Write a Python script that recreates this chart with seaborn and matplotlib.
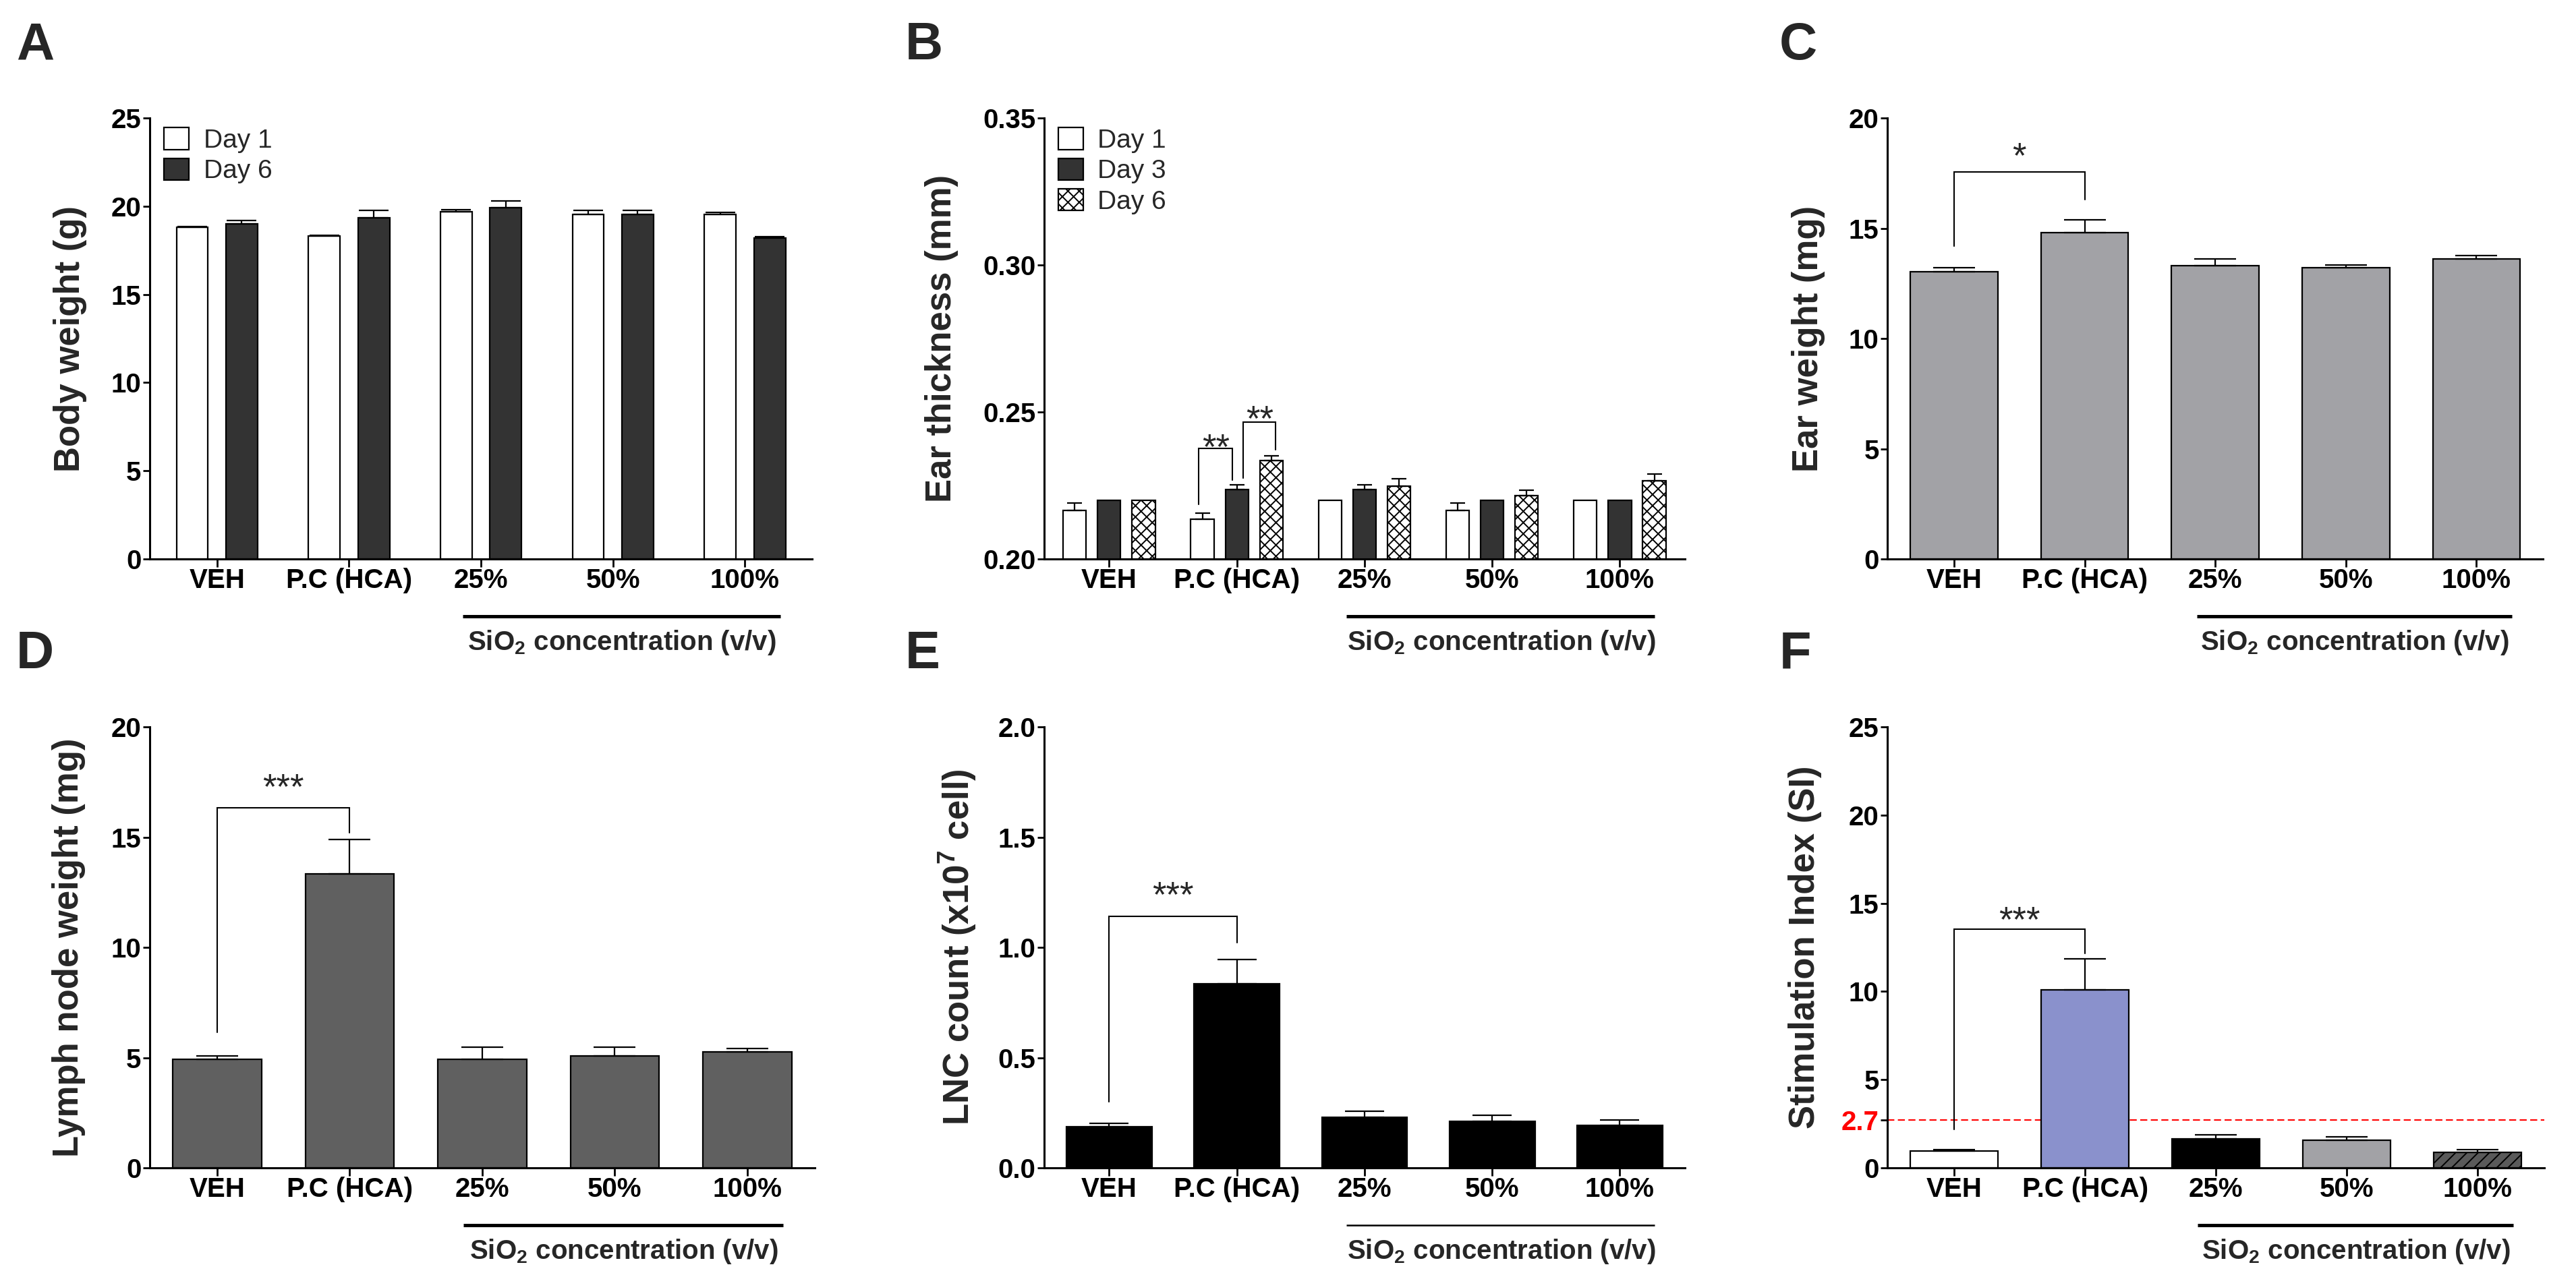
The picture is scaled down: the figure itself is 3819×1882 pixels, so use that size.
import numpy as np
import pandas as pd
import matplotlib
matplotlib.use("Agg")
import matplotlib.pyplot as plt
import matplotlib.transforms as mtransforms
from matplotlib.patches import Patch
import seaborn as sns

# x axis groups (shared by all panels)
groups = ["VEH", "P.C (HCA)", "25%", "50%", "100%"]

# A - body weight (g)
body_days = ["Day 1", "Day 6"]
body_day1 = [18.8, 18.3, 19.7, 19.55, 19.55]
body_day1_err = [0.05, 0.05, 0.12, 0.22, 0.1]
body_day6 = [19.0, 19.35, 19.9, 19.55, 18.2]
body_day6_err = [0.2, 0.4, 0.4, 0.2, 0.07]

# B - ear thickness (mm)
ear_days = ["Day 1", "Day 3", "Day 6"]
ear_day1 = [0.2165, 0.2135, 0.2200, 0.2165, 0.2200]
ear_day1_err = [0.0025, 0.002, 0.0, 0.0025, 0.0]
ear_day3 = [0.2200, 0.2236, 0.2236, 0.2200, 0.2200]
ear_day3_err = [0.0, 0.0017, 0.0017, 0.0, 0.0]
ear_day6 = [0.2200, 0.2334, 0.2247, 0.2215, 0.2265]
ear_day6_err = [0.0, 0.0017, 0.0025, 0.0018, 0.0024]

# C - ear weight (mg)
ear_weight = [13.03, 14.79, 13.29, 13.22, 13.62]
ear_weight_err = [0.17, 0.6, 0.33, 0.1, 0.15]

# D - lymph node weight (mg)
node_weight = [4.92, 13.34, 4.92, 5.08, 5.27]
node_weight_err = [0.17, 1.56, 0.55, 0.4, 0.14]

# E - LNC count (x10^7 cell)
lnc_count = [0.187, 0.835, 0.228, 0.211, 0.194]
lnc_count_err = [0.015, 0.11, 0.03, 0.027, 0.022]

# F - stimulation index
stim_index = [0.96, 10.09, 1.65, 1.58, 0.89]
stim_index_err = [0.07, 1.77, 0.23, 0.19, 0.14]
si_cutoff = 2.7

# significance brackets: (left foot, top, right foot, star y, label)
sig_B1 = (0.2185, 0.2377, 0.2268, 0.2411, "**")
sig_B2 = (0.2275, 0.2466, 0.2372, 0.2508, "**")
sig_C = (14.18, 17.56, 16.3, 18.7, "*")
sig_D = (6.15, 16.33, 15.2, 17.7, "***")
sig_E = (0.30, 1.141, 1.02, 1.28, "***")
sig_F = (2.18, 13.53, 12.16, 14.6, "***")

sns.set_theme(style="ticks")
plt.rcParams["font.family"] = ["Liberation Sans", "DejaVu Sans"]
plt.rcParams["font.weight"] = "bold"
plt.rcParams["mathtext.fontset"] = "custom"
plt.rcParams["mathtext.rm"] = "Liberation Sans:bold"
plt.rcParams["mathtext.bf"] = "Liberation Sans:bold"
plt.rcParams["mathtext.default"] = "bf"
plt.rcParams["hatch.linewidth"] = 1.4

EDGE = 1.6
TICK_FS = 29
CHECK = "xx"
STRIPE = "//"


def hatch_bar(bar, hatch, lw):
    bar.set_hatch(hatch)
    if hasattr(bar, "set_hatch_linewidth"):
        bar.set_hatch_linewidth(lw)


def grouped_bars(ax, days, values, errors, colors, hatches, width, gap, capsize):
    rows = []
    for d, vals in zip(days, values):
        for g, v in zip(groups, vals):
            rows.append({"group": g, "day": d, "value": v})
    df = pd.DataFrame(rows)
    sns.barplot(data=df, x="group", y="value", hue="day", order=groups, hue_order=days,
                palette=dict(zip(days, colors)), width=width, gap=gap, saturation=1,
                edgecolor="black", linewidth=EDGE, errorbar=None, legend=False, ax=ax)
    centers = {}
    for container, day, errs, hatch in zip(ax.containers, days, errors, hatches):
        for bar in container:
            xc = bar.get_x() + bar.get_width() / 2
            i = int(round(xc))
            centers[(i, day)] = xc
            if hatch:
                hatch_bar(bar, hatch, 1.4)
            if errs[i] > 0:
                ax.errorbar(xc, bar.get_height(), yerr=[[0], [errs[i]]], fmt="none",
                            ecolor="black", elinewidth=EDGE, capsize=capsize,
                            capthick=EDGE, zorder=3)
    return centers


def single_bars(ax, values, errs, colors, capsize, hatches=None):
    df = pd.DataFrame({"group": groups, "value": values})
    sns.barplot(data=df, x="group", y="value", hue="group", order=groups, hue_order=groups,
                palette=dict(zip(groups, colors)), dodge=False, width=0.67, saturation=1,
                edgecolor="black", linewidth=EDGE, errorbar=None, legend=False, ax=ax)
    centers = {}
    for bar in ax.patches:
        xc = bar.get_x() + bar.get_width() / 2
        i = int(round(xc))
        centers[i] = xc
        if hatches and hatches[i]:
            hatch_bar(bar, hatches[i], 1.4)
        ax.errorbar(xc, bar.get_height(), yerr=[[0], [errs[i]]], fmt="none",
                    ecolor="black", elinewidth=EDGE, capsize=capsize,
                    capthick=EDGE, zorder=3)
    return centers


def bracket(ax, x1, x2, sig, star_fs=38):
    lf, top, rf, sy, lab = sig
    ax.plot([x1, x1, x2, x2], [lf, top, top, rf], color="black", lw=1.5,
            solid_joinstyle="miter", zorder=4, clip_on=False)
    ax.annotate(lab, xy=((x1 + x2) / 2, sy), xytext=(0, -12), textcoords="offset points",
                ha="center", va="center", fontsize=star_fs, fontweight="normal")


def style_axis(ax, ylim, yticks, yticklabels, ylabel, label_off, sio2_lw=3.6):
    ax.set_xlim(-0.51, 4.51)
    ax.set_ylim(*ylim)
    ax.set_yticks(yticks)
    ax.set_yticklabels(yticklabels)
    ax.set_xlabel("")
    ax.set_ylabel(ylabel, fontsize=38, fontweight="bold", va="center")
    ax.yaxis.set_label_coords(-label_off, 0.5)
    sns.despine(ax=ax)
    for s in ["left", "bottom"]:
        ax.spines[s].set_linewidth(2.2)
        ax.spines[s].set_color("black")
    ax.tick_params(axis="y", length=7, width=2, pad=2, labelsize=TICK_FS, colors="black")
    ax.tick_params(axis="x", length=8.5, width=2, pad=0.5, labelsize=TICK_FS, colors="black")
    for lbl in ax.get_xticklabels() + ax.get_yticklabels():
        lbl.set_fontweight("bold")
    trans = mtransforms.blended_transform_factory(ax.transData, ax.transAxes)
    ax.plot([1.86, 4.27], [-0.13, -0.13], transform=trans, color="black",
            lw=sio2_lw, clip_on=False, solid_capstyle="butt")
    ax.text(3.07, -0.19, "SiO$_2$ concentration (v/v)", transform=trans, ha="center",
            va="center", fontsize=TICK_FS, fontweight="bold")


def day_legend(ax, colors, hatches, labels):
    handles = [Patch(facecolor=c, edgecolor="black", linewidth=EDGE, hatch=h, label=l)
               for c, h, l in zip(colors, hatches, labels)]
    ax.legend(handles=handles, loc="upper left", bbox_to_anchor=(0.022, 0.978),
              frameon=False, prop={"size": 28, "weight": "normal"}, handlelength=0.95,
              handleheight=0.9, handletextpad=0.55, labelspacing=0.2, borderpad=0,
              borderaxespad=0)


fig = plt.figure(figsize=(38.19, 18.82), dpi=100)

top_b, top_h = 0.5595, 0.3475
bot_b, bot_h = 0.0797, 0.3475
axA = fig.add_axes([0.0581, top_b, 0.2572, top_h])
axB = fig.add_axes([0.4053, top_b, 0.2488, top_h])
axC = fig.add_axes([0.7327, top_b, 0.2545, top_h])
axD = fig.add_axes([0.0581, bot_b, 0.2582, bot_h])
axE = fig.add_axes([0.4053, bot_b, 0.2488, bot_h])
axF = fig.add_axes([0.7327, bot_b, 0.2551, bot_h])

# A
grouped_bars(axA, body_days, [body_day1, body_day6], [body_day1_err, body_day6_err],
             ["white", "#333333"], [None, None], width=0.75, gap=0.36, capsize=16)
style_axis(axA, (0, 25), [0, 5, 10, 15, 20, 25], ["0", "5", "10", "15", "20", "25"],
           "Body weight (g)", 0.12)
day_legend(axA, ["white", "#333333"], [None, None], body_days)

# B
cB = grouped_bars(axB, ear_days, [ear_day1, ear_day3, ear_day6],
                  [ear_day1_err, ear_day3_err, ear_day6_err],
                  ["white", "#333333", "white"], [None, None, CHECK],
                  width=0.81, gap=0.33, capsize=8)
style_axis(axB, (0.20, 0.35), [0.20, 0.25, 0.30, 0.35], ["0.20", "0.25", "0.30", "0.35"],
           "Ear thickness (mm)", 0.16)
day_legend(axB, ["white", "#333333", "white"], [None, None, CHECK], ear_days)
bracket(axB, cB[(1, "Day 1")] - 0.027, cB[(1, "Day 3")] - 0.034, sig_B1)
bracket(axB, cB[(1, "Day 3")] + 0.05, cB[(1, "Day 6")] + 0.035, sig_B2)

# C
cC = single_bars(axC, ear_weight, ear_weight_err, ["#a2a2a6"] * 5, capsize=22)
style_axis(axC, (0, 20), [0, 5, 10, 15, 20], ["0", "5", "10", "15", "20"],
           "Ear weight (mg)", 0.121)
bracket(axC, cC[0], cC[1], sig_C)

# D
cD = single_bars(axD, node_weight, node_weight_err, ["#606060"] * 5, capsize=22)
style_axis(axD, (0, 20), [0, 5, 10, 15, 20], ["0", "5", "10", "15", "20"],
           "Lymph node weight (mg)", 0.122)
bracket(axD, cD[0], cD[1], sig_D)

# E
cE = single_bars(axE, lnc_count, lnc_count_err, ["black"] * 5, capsize=21)
style_axis(axE, (0, 2.0), [0, 0.5, 1.0, 1.5, 2.0], ["0.0", "0.5", "1.0", "1.5", "2.0"],
           "LNC count (x10$^{7}$ cell)", 0.135, sio2_lw=1.8)
bracket(axE, cE[0], cE[1], sig_E)

# F
cF = single_bars(axF, stim_index, stim_index_err,
                 ["white", "#8a91cc", "black", "#a2a2a6", "#5a5a5a"], capsize=22,
                 hatches=[None, None, None, None, STRIPE])
style_axis(axF, (0, 25), [0, si_cutoff, 5, 10, 15, 20, 25],
           ["0", "2.7", "5", "10", "15", "20", "25"], "Stimulation Index (SI)", 0.125)
axF.axhline(si_cutoff, color="#ff0000", ls=(0, (5, 2.5)), lw=1.5, zorder=0.9)
axF.get_yticklabels()[1].set_color("#ff0000")
axF.yaxis.get_major_ticks()[1].tick1line.set_color("#ff0000")
bracket(axF, cF[0], cF[1], sig_F)

# panel letters
for letter, x, y in [("A", 0.0063, 0.953), ("B", 0.3514, 0.953), ("C", 0.6908, 0.953),
                     ("D", 0.0063, 0.4734), ("E", 0.3514, 0.4734), ("F", 0.6908, 0.4734)]:
    fig.text(x, y, letter, fontsize=56, fontweight="bold", ha="left", va="baseline")

fig.savefig("out.png", dpi=100, facecolor="white")
